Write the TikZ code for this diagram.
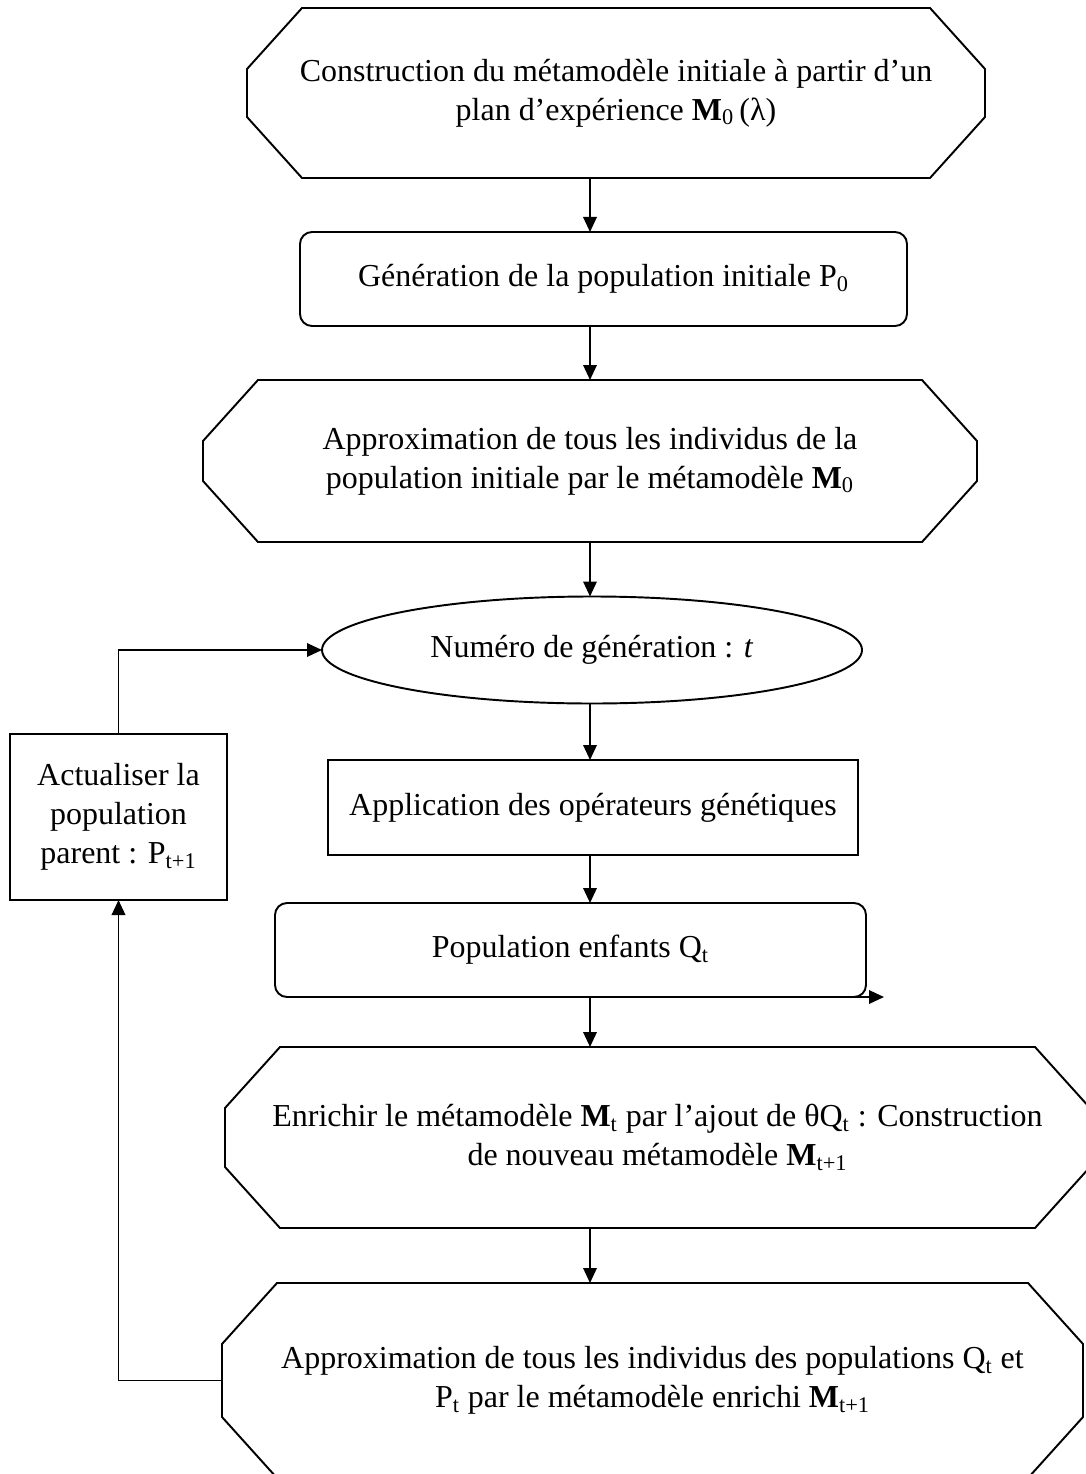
\documentclass[tikz,border=0pt]{standalone}
\usepackage{fontspec}
\setmainfont{Liberation Serif}
\usepackage{tikz}
\usetikzlibrary{positioning,arrows.meta,calc,shapes.geometric}

\newcommand{\octframe}[1]{%
  \draw[frame] ([xshift=\chx]#1.north west) -- ([xshift=-\chx]#1.north east)
    -- ([yshift=-\chy]#1.north east) -- ([yshift=\chy]#1.south east)
    -- ([xshift=-\chx]#1.south east) -- ([xshift=\chx]#1.south west)
    -- ([yshift=\chy]#1.south west) -- ([yshift=-\chy]#1.north west) -- cycle;}

\begin{document}
\begin{tikzpicture}[
  font=\fontsize{18.2}{22.2}\selectfont, >={Triangle[length=0.3cm,width=0.27cm]},
  frame/.style={line width=1.1pt},
  octa/.style={inner sep=0pt, outer sep=0pt, align=center},
  rbox/.style={draw, line width=1.1pt, rounded corners=0.24cm, inner sep=0pt, outer sep=0pt, align=center},
  sbox/.style={draw, line width=1.1pt, inner sep=0pt, outer sep=0pt, align=center},
  oval/.style={draw, line width=1.1pt, ellipse, inner sep=0pt, outer sep=0pt},
  flow/.style={->, line width=1.1pt},
]
\def\chx{1.1cm}\def\chy{1.22cm}
\useasboundingbox (0,0) rectangle (21.72,-29.48);
\clip (0,0) rectangle (21.72,-29.48);

\node[octa, minimum width=14.76cm, minimum height=3.4cm] (init) at (12.32,-1.86)
  {Construction du métamodèle initiale à partir d’un\\plan d’expérience \textbf{M}\textsubscript{0}\,(λ)};
\octframe{init}
\node[rbox, minimum width=12.14cm, minimum height=1.88cm] (gen) at (12.07,-5.58)
  {Génération de la population initiale P\textsubscript{0}};
\node[octa, minimum width=15.48cm, minimum height=3.24cm] (approx) at (11.8,-9.22)
  {Approximation de tous les individus de la\\population initiale par le métamodèle \textbf{M}\textsubscript{0}};
\octframe{approx}
\node[oval, minimum width=10.8cm, minimum height=2.14cm] (num) at (11.84,-13.0)
  {Numéro de génération : \textit{t}};
\node[sbox, minimum width=10.6cm, minimum height=1.9cm] (ops) at (11.86,-16.15)
  {Application des opérateurs génétiques};
\node[rbox, minimum width=11.82cm, minimum height=1.88cm] (kids) at (11.41,-19.0)
  {Population enfants Q\textsubscript{t}};
\node[octa, minimum width=17.3cm, minimum height=3.62cm] (enrich) at (13.15,-22.75)
  {Enrichir le métamodèle \textbf{M}\textsubscript{t} par l’ajout de θQ\textsubscript{t} : Construction\\de nouveau métamodèle \textbf{M}\textsubscript{t+1}};
\octframe{enrich}
\node[octa, minimum width=17.22cm, minimum height=3.9cm] (reapprox) at (13.05,-27.61)
  {Approximation de tous les individus des populations Q\textsubscript{t} et\\P\textsubscript{t} par le métamodèle enrichi \textbf{M}\textsubscript{t+1}};
\octframe{reapprox}
\node[sbox, minimum width=4.34cm, minimum height=3.32cm] (update) at (2.37,-16.34)
  {Actualiser la\\population\\parent : P\textsubscript{t+1}};

\coordinate (spine) at (11.8,0);
\coordinate (stub) at ([xshift=0.36cm]kids.south east);
\draw[flow] (init.south -| spine) -- (gen.north -| spine);
\draw[flow] (gen.south -| spine) -- (approx.north -| spine);
\draw[flow] (approx.south -| spine) -- (num.north -| spine);
\draw[flow] (num.south -| spine) -- (ops.north -| spine);
\draw[flow] (ops.south -| spine) -- (kids.north -| spine);
\draw[flow] (kids.south -| spine) -- (enrich.north -| spine);
\draw[flow] (enrich.south -| spine) -- (reapprox.north -| spine);
\draw[flow] ([xshift=-0.42cm]kids.south east) -- (stub);
\draw[flow] (reapprox.west) -| (update.south);
\draw[flow] (update.north) |- (num.west);
\end{tikzpicture}
\end{document}
